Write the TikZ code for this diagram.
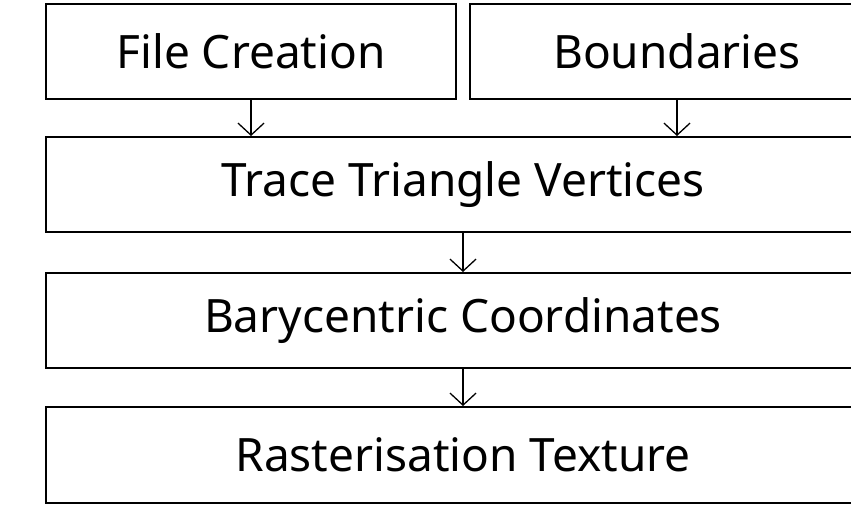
\documentclass[tikz,border=0pt]{standalone}
\usepackage{fontspec}
\setmainfont{Noto Sans}
\usetikzlibrary{arrows.meta}
\begin{document}
\begin{tikzpicture}[x=1pt,y=-1pt,
  box/.style={draw=black,line width=2pt,fill=white,inner sep=0pt,minimum height=95pt,font=\fontsize{46}{52}\selectfont},
  conn/.style={line width=1.3pt,-{Straight Barb[length=12pt,width=26pt,line width=1.3pt]}}]
\useasboundingbox (0,0) rectangle (851,508);
\clip (0,0) rectangle (851,508);
\node[box,minimum width=410pt] (file) at (251,51.5) {File Creation};
\node[box,minimum width=414pt] (bound) at (677,51.5) {Boundaries};
\node[box,minimum width=834pt] (trace) at (463,184.5) {Trace Triangle Vertices};
\node[box,minimum width=834pt] (bary) at (463,320.5) {Barycentric Coordinates};
\node[box,minimum width=834pt,minimum height=96pt] (rast) at (463,455) {Rasterisation Texture};
\draw[conn] (file.south) -- (file.south |- trace.north);
\draw[conn] (bound.south) -- (bound.south |- trace.north);
\draw[conn] (trace.south) -- (bary.north);
\draw[conn] (bary.south) -- (rast.north);
\end{tikzpicture}
\end{document}
